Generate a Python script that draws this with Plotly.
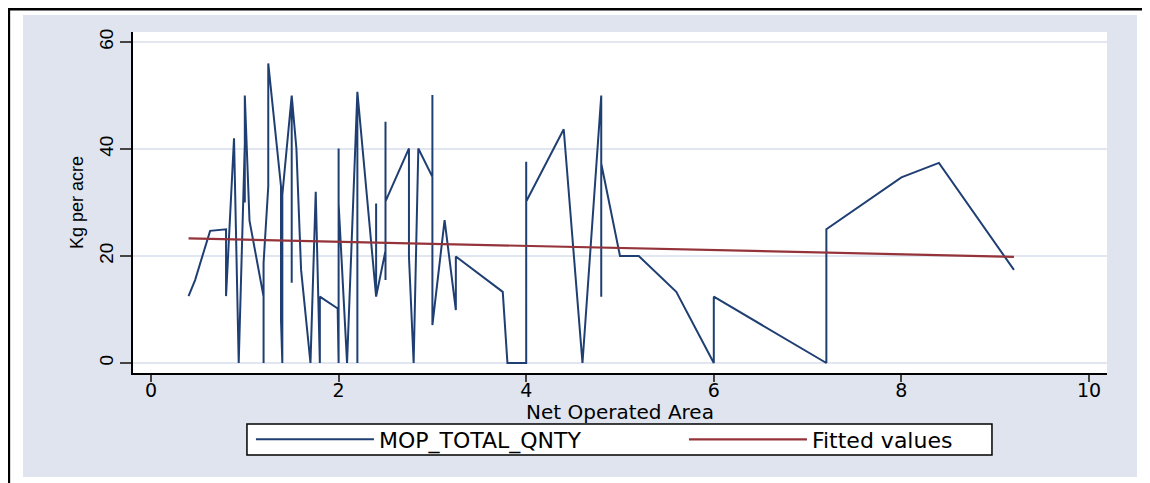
import plotly.graph_objects as go

# Net operated area (x) and MOP quantity in kg per acre (y), in plotted order
area = [0.40, 0.47, 0.63, 0.80, 0.80, 0.885, 0.935,
        1.00, 1.00, 1.00, 1.05, 1.20, 1.20, 1.20, 1.25, 1.25,
        1.386, 1.386, 1.40, 1.40, 1.50, 1.50, 1.50, 1.55, 1.60,
        1.70, 1.756, 1.80, 1.80, 1.99, 2.00, 2.00, 2.00, 2.09,
        2.20, 2.20, 2.20, 2.40, 2.40, 2.40, 2.50, 2.50, 2.50, 2.50,
        2.75, 2.75, 2.80, 2.85, 3.00, 3.00, 3.00, 3.13, 3.25, 3.25,
        3.75, 3.80, 4.00, 4.00, 4.00, 4.00, 4.40, 4.60, 4.80, 4.80,
        4.80, 5.00, 5.20, 5.60, 6.00, 6.00, 7.20, 7.20, 8.00, 8.40, 9.20]
kg_per_acre = [12.5, 15.5, 24.7, 25.0, 12.5, 42.0, 0.0,
               41.0, 30.0, 50.0, 26.6, 12.4, 0.0, 18.7, 33.0, 56.0,
               33.0, 8.0, 0.0, 31.4, 50.0, 15.0, 50.0, 40.1, 17.4,
               0.0, 32.0, 0.0, 12.4, 10.2, 0.0, 40.1, 29.8, 0.0,
               50.7, 0.0, 50.7, 12.4, 29.8, 12.4, 21.0, 15.5, 45.1, 30.2,
               40.1, 19.9, 0.0, 40.1, 34.8, 50.1, 7.1, 26.7, 9.9, 19.9,
               13.3, 0.0, 0.0, 37.6, 12.5, 30.2, 43.7, 0.0, 50.0, 12.4,
               37.3, 20.0, 20.0, 13.3, 0.0, 12.4, 0.0, 25.0, 34.7, 37.4, 17.4]

fit_x = [0.40, 9.20]
fit_y = [23.3, 19.85]

x_ticks = [0, 2, 4, 6, 8, 10]
y_ticks = [0, 20, 40, 60]

x_title = "Net Operated Area"
y_title = "Kg per acre"

BLUE = "#1f3f73"
RED = "#94343a"
GRAPH_BG = "#dfe4ee"
GRID = "#e1e6f0"
HFONT = "DejaVu Sans"

fig = go.Figure()
fig.add_trace(go.Scatter(x=area, y=kg_per_acre, mode="lines", name="MOP_TOTAL_QNTY",
                         line=dict(color=BLUE, width=2)))
fig.add_trace(go.Scatter(x=fit_x, y=fit_y, mode="lines", name="Fitted values",
                         line=dict(color=RED, width=2.2)))

# page body has an 8px default margin, so the figure is laid out 8px up/left
fig.update_layout(
    width=1150, height=483,
    margin=dict(l=125, r=51, t=24, b=118, autoexpand=False),
    paper_bgcolor="white",
    plot_bgcolor="rgba(0,0,0,0)",
    showlegend=True,
    legend=dict(orientation="h", x=0.1211, xanchor="left", y=-0.195, yanchor="middle",
                bgcolor="rgba(0,0,0,0)", borderwidth=0,
                font=dict(family=HFONT, size=22, color="black"),
                itemwidth=118, entrywidth=300, entrywidthmode="pixels",
                traceorder="normal"),
    shapes=[
        dict(type="rect", xref="paper", yref="paper", x0=-0.1129, x1=1.0308, y0=-0.305, y1=1.0499,
             fillcolor=GRAPH_BG, line=dict(width=0), layer="below"),
        dict(type="rect", xref="paper", yref="paper", x0=0, x1=1, y0=0, y1=1,
             fillcolor="white", line=dict(width=0), layer="below"),
        dict(type="rect", xref="paper", yref="paper", x0=0.1170, x1=0.8819, y0=-0.2405, y1=-0.1496,
             fillcolor="white", line=dict(color="black", width=1.5), layer="above"),
        dict(type="rect", xref="paper", yref="paper", x0=-0.1274, x1=1.0401, y0=-0.5, y1=1.0669,
             fillcolor="rgba(0,0,0,0)", line=dict(color="black", width=2.5), layer="above"),
    ],
    annotations=[
        dict(text=x_title, xref="paper", yref="paper", x=0.5, y=-0.1144,
             xanchor="center", yanchor="middle", showarrow=False,
             font=dict(family=HFONT, size=20, color="black")),
    ],
)

fig.update_xaxes(range=[-0.192, 10.192], tickvals=x_ticks, ticktext=[str(v) for v in x_ticks],
                 showline=True, linecolor="black", linewidth=1.5,
                 ticks="outside", ticklen=7, tickwidth=1.5, tickcolor="#444",
                 showgrid=False, zeroline=False, automargin=False,
                 ticklabelstandoff=-8,
                 tickfont=dict(family=HFONT, size=19, color="black"))
fig.update_yaxes(range=[-1.87, 61.87], tickvals=y_ticks, ticktext=[str(v) for v in y_ticks],
                 tickangle=-90,
                 showline=True, linecolor="black", linewidth=1.5,
                 ticks="outside", ticklen=11, tickwidth=1.5, tickcolor="#444",
                 showgrid=True, gridcolor=GRID, gridwidth=2, zeroline=False, automargin=False,
                 ticklabelstandoff=0,
                 tickfont=dict(family="Liberation Sans", size=19, color="black"),
                 title=dict(text=y_title, font=dict(family="Liberation Sans", size=18, color="black"),
                            standoff=7))

fig.write_html("out.html")
